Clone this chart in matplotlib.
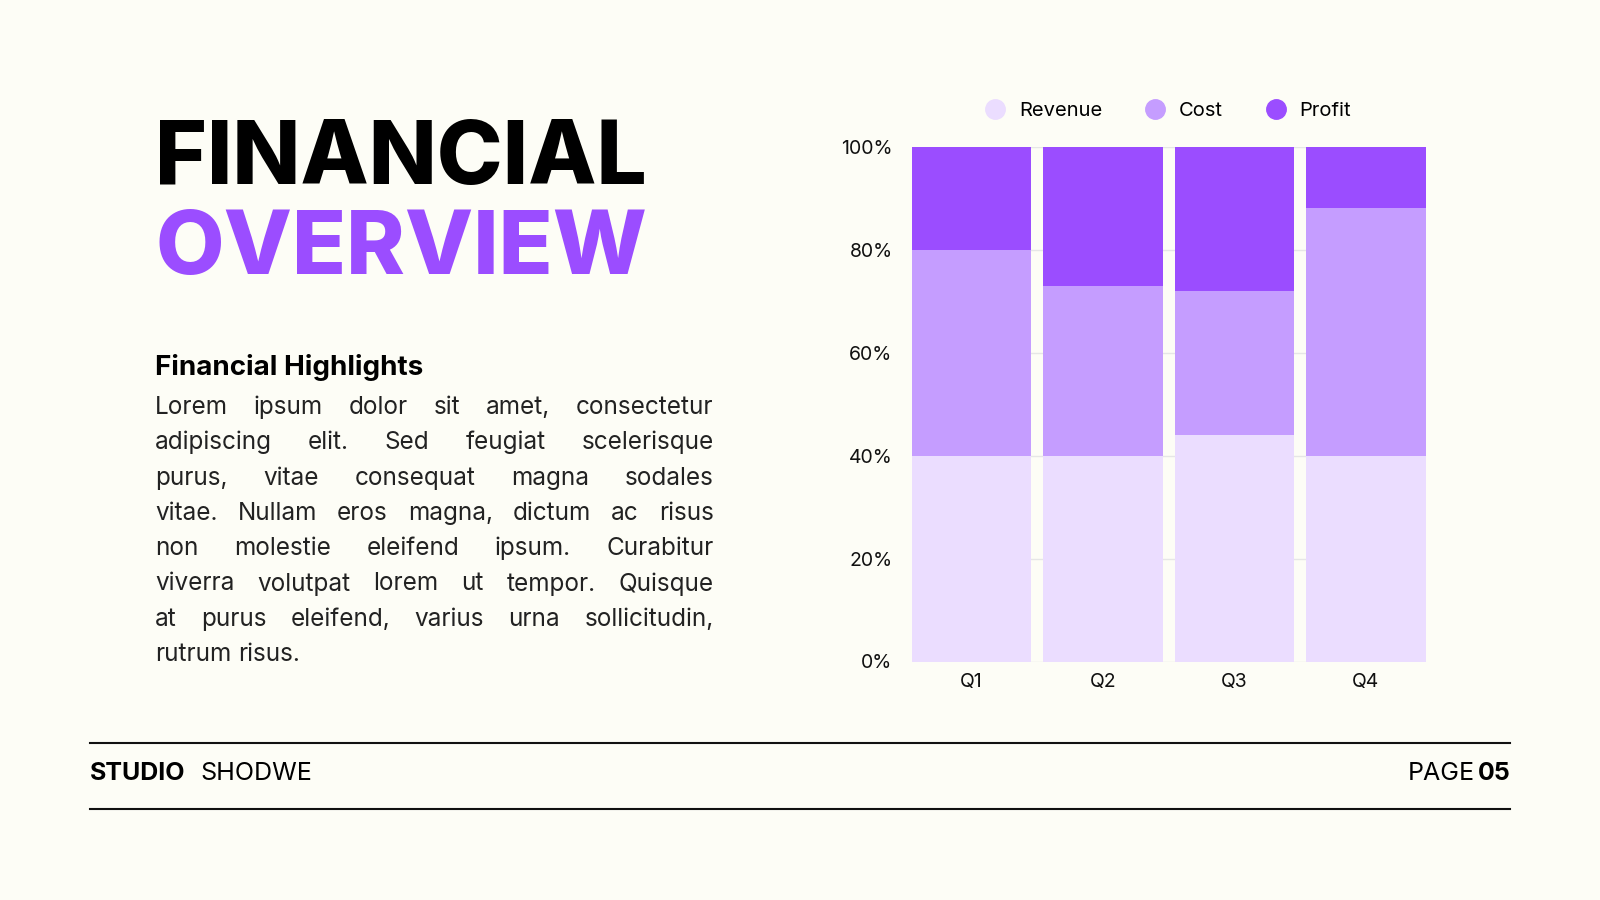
import matplotlib.pyplot as plt
import numpy as np
from matplotlib.lines import Line2D

quarters = ["Q1", "Q2", "Q3", "Q4"]
revenue = [40, 40, 44, 40]
cost = [40, 33, 28, 48]
profit = [20, 27, 28, 12]
yticks = [0, 20, 40, 60, 80, 100]

para = ["Lorem ipsum dolor sit amet, consectetur",
        "adipiscing elit. Sed feugiat scelerisque",
        "purus, vitae consequat magna sodales",
        "vitae. Nullam eros magna, dictum ac risus",
        "non molestie eleifend ipsum. Curabitur",
        "viverra volutpat lorem ut tempor. Quisque",
        "at purus eleifend, varius urna sollicitudin,",
        "rutrum risus."]

bg = "#FDFDF6"
c_rev, c_cost, c_prof = "#EBDDFF", "#C59DFF", "#9B4DFF"
plt.rcParams['font.family'] = ['Inter', 'DejaVu Sans']

fig = plt.figure(figsize=(16, 9), dpi=100, facecolor=bg)

# chart
ax = fig.add_axes([0.570, 0.265, 0.321, 0.572], facecolor=bg)
x = np.arange(len(quarters))
w = 0.907
ax.bar(x, revenue, w, color=c_rev, zorder=2, label="Revenue")
ax.bar(x, cost, w, bottom=revenue, color=c_cost, zorder=2, label="Cost")
bot = np.array(revenue) + np.array(cost)
ax.bar(x, profit, w, bottom=bot, color=c_prof, zorder=2, label="Profit")
ax.set_xlim(-w / 2, 3 + w / 2)
ax.set_ylim(0, 100)
ax.set_yticks(yticks)
ax.set_yticklabels([f"{t}%" for t in yticks])
ax.set_xticks(x)
ax.set_xticklabels(quarters)
ax.tick_params(length=0, labelsize=14, colors="#111111")
ax.tick_params(axis='y', pad=14)
ax.tick_params(axis='x', pad=8)
ax.grid(axis='y', color="#e6e6e6", lw=1, zorder=0)
for s in ax.spines.values():
    s.set_visible(False)
handles = [Line2D([], [], marker='o', ls='', ms=14, color=c) for c in (c_rev, c_cost, c_prof)]
fig.legend(handles, ["Revenue", "Cost", "Profit"], loc='center', bbox_to_anchor=(0.727, 0.877),
           ncol=3, frameon=False, fontsize=14.5, handletextpad=0.2, columnspacing=1.6)

# text
fig.text(0.097, 0.796, "FINANCIAL", fontsize=64, fontweight='heavy', color="#000000")
fig.text(0.097, 0.696, "OVERVIEW", fontsize=64, fontweight='heavy', color="#9B4DFF")
fig.text(0.097, 0.583, "Financial Highlights", fontsize=20, fontweight='bold', color="#000000")

renderer = fig.canvas.get_renderer()
left, right = 0.097 * 1600, 0.446 * 1600
y0 = 0.540 * 900
for i, line in enumerate(para):
    words = line.split()
    yy = (y0 - i * 35.3) / 900
    ts = [fig.text(0, yy, wd, fontsize=17.5, color="#222222") for wd in words]
    widths = [t.get_window_extent(renderer).width for t in ts]
    if i == len(para) - 1:
        gap = renderer.points_to_pixels(17.5) * 0.28
    else:
        gap = (right - left - sum(widths)) / (len(words) - 1)
    xp = left
    for t, wd in zip(ts, widths):
        t.set_x(xp / 1600)
        xp += wd + gap

# footer
fig.add_artist(Line2D([0.056, 0.944], [0.175, 0.175], color="#111111", lw=1.5))
fig.add_artist(Line2D([0.056, 0.944], [0.101, 0.101], color="#111111", lw=1.5))
fig.text(0.056, 0.14, "STUDIO", fontsize=18, fontweight='bold', va='center')
fig.text(0.125, 0.14, "SHODWE", fontsize=18, va='center')
fig.text(0.944, 0.14, "05", fontsize=18, fontweight='bold', va='center', ha='right')
fig.text(0.922, 0.14, "PAGE", fontsize=18, va='center', ha='right')

fig.savefig("out.png", facecolor=bg)
